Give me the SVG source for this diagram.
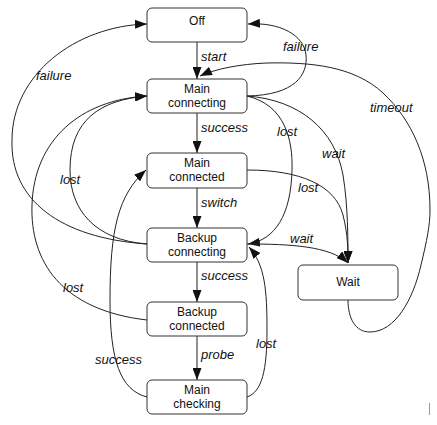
<svg xmlns="http://www.w3.org/2000/svg" width="437" height="425" viewBox="0 0 437 425">
<style>
.node rect{fill:#fff;stroke:#333;stroke-width:1}
.node text{font-family:"Liberation Sans",Arial,sans-serif;font-size:12px;fill:#111;text-anchor:middle}
.edges path{fill:none;stroke:#222;stroke-width:1;marker-end:url(#arr)}
.lbl{font-family:"Liberation Sans",Arial,sans-serif;font-size:13px;font-style:italic;fill:#111}
</style>
<defs>
<marker id="arr" markerUnits="userSpaceOnUse" viewBox="0 0 12 9" refX="12" refY="4.5" markerWidth="12" markerHeight="9" orient="auto">
<path d="M0,0 L12,4.5 L0,9 z" fill="#111"/>
</marker>
</defs>
<rect width="437" height="425" fill="#fff"/>
<g class="edges" id="edges">
<path d="M197,42 L197,79"/>
<path d="M247,96 C295,95 308,75 306,55 C304,35 280,22 248,24"/>
<path d="M147,244 C60,238 10,200 12,140 C12,75 75,26 147,24"/>
<path d="M197,113 L197,153"/>
<path d="M197,188 L197,228"/>
<path d="M197,262 L197,302"/>
<path d="M197,336 L197,380"/>
<path d="M247,96 C285,105 293,140 292,170 C291,215 275,240 248,244"/>
<path d="M247,96 C300,100 335,130 343,175 C348,205 348,240 348,263"/>
<path d="M247,170 C300,170 335,185 343,215 C348,235 348,250 348,263"/>
<path d="M247,244 C290,244 330,246 348,263"/>
<path d="M348,300 C348,318 355,332 370,332 C395,332 413,300 421,265 C427,240 430,225 430,210 C430,160 412,120 383,93 C354,66 310,62 267,63 C240,64 215,69 200,76"/>
<path d="M147,244 C95,240 70,210 70,170 C70,120 100,100 147,96"/>
<path d="M147,320 C60,310 30,260 32,205 C34,140 80,100 147,96"/>
<path d="M147,397 C120,390 110,360 110,300 C110,230 118,195 146,170"/>
<path d="M247,397 C262,392 267,370 267,330 C267,290 265,265 249,247"/>
</g>
<g id="labels">
<text class="lbl" x="201" y="61">start</text>
<text class="lbl" x="283" y="51">failure</text>
<text class="lbl" x="36" y="80">failure</text>
<text class="lbl" x="370" y="112">timeout</text>
<text class="lbl" x="201" y="132">success</text>
<text class="lbl" x="277" y="136">lost</text>
<text class="lbl" x="322" y="158">wait</text>
<text class="lbl" x="60" y="184">lost</text>
<text class="lbl" x="298" y="192">lost</text>
<text class="lbl" x="201" y="207">switch</text>
<text class="lbl" x="290" y="243">wait</text>
<text class="lbl" x="201" y="280">success</text>
<text class="lbl" x="63" y="292">lost</text>
<text class="lbl" x="256" y="348">lost</text>
<text class="lbl" x="201" y="359">probe</text>
<text class="lbl" x="95" y="364">success</text>
</g>
<g class="node" id="off"><rect x="147" y="8" width="100" height="34" rx="5"/><text x="197" y="25">Off</text></g>
<g class="node" id="main-connecting"><rect x="147" y="79" width="100" height="34" rx="5"/><text x="197" y="93">Main</text><text x="197" y="107">connecting</text></g>
<g class="node" id="main-connected"><rect x="147" y="153" width="100" height="35" rx="5"/><text x="197" y="167">Main</text><text x="197" y="181">connected</text></g>
<g class="node" id="backup-connecting"><rect x="147" y="228" width="100" height="34" rx="5"/><text x="197" y="242">Backup</text><text x="197" y="256">connecting</text></g>
<g class="node" id="backup-connected"><rect x="147" y="302" width="100" height="34" rx="5"/><text x="197" y="316">Backup</text><text x="197" y="330">connected</text></g>
<g class="node" id="main-checking"><rect x="147" y="380" width="100" height="34" rx="5"/><text x="197" y="394">Main</text><text x="197" y="408">checking</text></g>
<g class="node" id="wait"><rect x="298" y="265" width="100" height="35" rx="5"/><text x="348" y="286">Wait</text></g>
<line x1="429.5" y1="403" x2="429.5" y2="415" stroke="#999" stroke-width="1"/>
</svg>
